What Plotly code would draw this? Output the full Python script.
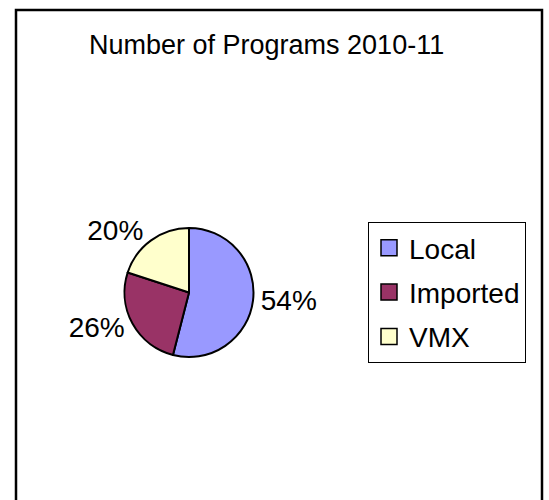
import plotly.graph_objects as go

title = "Number of Programs 2010-11"
categories = ["Local", "Imported", "VMX"]
shares = [54, 26, 20]
colors = ["#9999FF", "#993366", "#FFFFCC"]

W, H = 549, 500
FONT = "Liberation Sans, Arial, sans-serif"


def px(x):
    return x / W


def py(y):
    return 1 - y / H


fig = go.Figure()
fig.add_trace(go.Pie(
    labels=categories,
    values=shares,
    sort=False,
    direction="clockwise",
    rotation=0,
    marker=dict(colors=colors, line=dict(color="black", width=2)),
    textinfo="percent",
    textposition="outside",
    texttemplate="%{percent:.0%}",
    outsidetextfont=dict(family=FONT, size=28, color="black"),
    domain=dict(x=[px(124), px(254)], y=[py(357), py(228)]),
    hoverinfo="label+percent",
    showlegend=False,
))

# legend entries (one per category, same colours as the slices)
for cat, col in zip(categories, colors):
    fig.add_trace(go.Scatter(
        x=[None], y=[None], mode="markers", name=cat, legendgroup=cat,
        marker=dict(symbol="square", size=18, color=col,
                    line=dict(color="black", width=1.5)),
        showlegend=True, hoverinfo="skip",
    ))

fig.update_layout(
    width=W, height=H,
    margin=dict(l=0, r=0, t=0, b=0),
    paper_bgcolor="white",
    plot_bgcolor="white",
    font=dict(family=FONT, color="black"),
    xaxis=dict(visible=False),
    yaxis=dict(visible=False),
    legend=dict(
        x=px(368), y=py(222), xanchor="left", yanchor="top",
        bordercolor="black", borderwidth=1,
        font=dict(family=FONT, size=28, color="black"),
        bgcolor="white", traceorder="grouped", tracegroupgap=5,
    ),
    annotations=[dict(
        text=title, x=px(266), y=py(45), xref="paper", yref="paper",
        xanchor="center", yanchor="middle", showarrow=False,
        font=dict(family=FONT, size=27, color="black"),
    )],
    shapes=[dict(
        type="rect", xref="paper", yref="paper",
        x0=px(16), x1=px(542), y0=-0.05, y1=py(10),
        line=dict(color="black", width=2.5),
        fillcolor="rgba(0,0,0,0)", layer="below",
    )],
)

fig.write_html(
    "out.html",
    config={"displayModeBar": False},
    post_script="document.body.style.margin='0';document.body.style.overflow='hidden';",
)
